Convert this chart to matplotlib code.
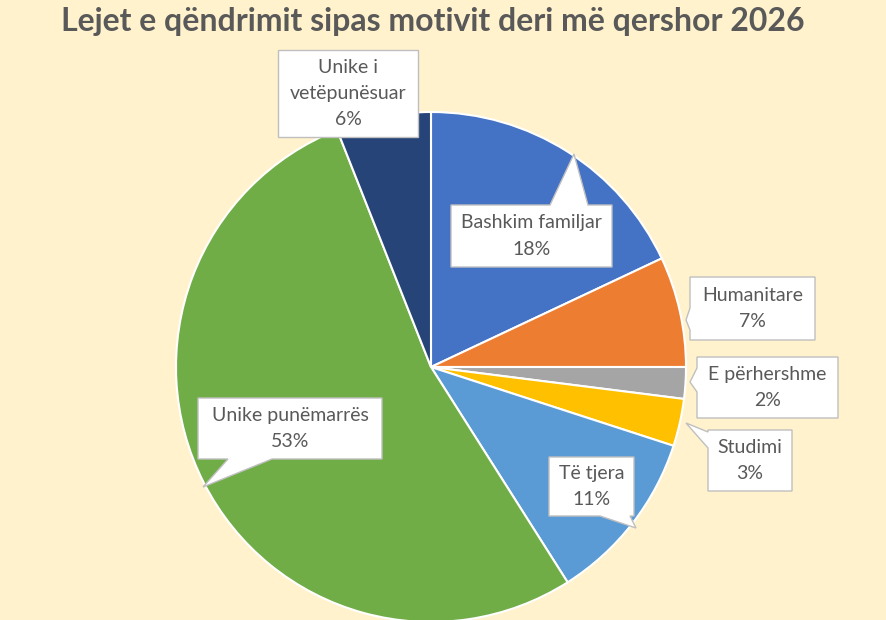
import matplotlib
matplotlib.use("Agg")
import matplotlib.pyplot as plt
from matplotlib.patches import Polygon

# ---- data ----
categories = ["Bashkim familjar", "Humanitare", "E përhershme", "Studimi",
              "Të tjera", "Unike punëmarrës", "Unike i vetëpunësuar"]
label_text = ["Bashkim familjar", "Humanitare", "E përhershme", "Studimi",
              "Të tjera", "Unike punëmarrës", "Unike i\nvetëpunësuar"]
values = [18, 7, 2, 3, 11, 53, 6]
colors = ["#4472C4", "#ED7D31", "#A5A5A5", "#FFC000", "#5B9BD5", "#70AD47", "#264478"]
title = "Lejet e qëndrimit sipas motivit deri më qershor 2026"

# ---- layout (pixels in 887x620 canvas) ----
W, H = 887, 620
CX, CY, R = 431, 367, 255
BG = "#FFF2CC"
TXT = "#595959"

# callout boxes: (left, top, right, bottom), tail: (side, a, b, tip_x, tip_y)
callouts = [
    ((451, 205, 612, 267), ("top", 550, 588, 574, 154)),
    ((690, 277, 815, 340), ("left", 308, 330, 686, 320)),
    ((697, 357, 838, 418), ("left", 368, 392, 690, 382)),
    ((708, 430, 792, 491), ("left", 432, 448, 686, 423)),
    ((549, 457, 634, 516), ("bottom", 600, 630, 636, 528)),
    ((198, 398, 382, 459), ("bottom", 228, 272, 203, 487)),
    ((278, 50, 418, 137), None),
]

def px(x, y):
    return ((x - CX) / R, (CY - y) / R)

fig = plt.figure(figsize=(W / 100, H / 100), dpi=100, facecolor=BG)
ax = fig.add_axes([0, 0, 1, 1])
ax.set_facecolor(BG)

ax.pie(values, colors=colors, startangle=90, counterclock=False, radius=1,
       center=(0, 0), frame=True,
       wedgeprops=dict(edgecolor="white", linewidth=1.5))
ax.set_xlim(-CX / R, (W - CX) / R)
ax.set_ylim(-(H - CY) / R, CY / R)
ax.set_aspect("equal")
ax.axis("off")

for i, (box, tail) in enumerate(callouts):
    l, t, r, b = box
    TL, TR, BR, BL = (l, t), (r, t), (r, b), (l, b)
    if tail is None:
        pts = [TL, TR, BR, BL]
    else:
        side, a, c, tx, ty = tail
        tip = (tx, ty)
        if side == "top":
            pts = [TL, (a, t), tip, (c, t), TR, BR, BL]
        elif side == "right":
            pts = [TL, TR, (r, a), tip, (r, c), BR, BL]
        elif side == "bottom":
            pts = [TL, TR, BR, (c, b), tip, (a, b), BL]
        else:
            pts = [TL, TR, BR, BL, (l, c), tip, (l, a)]
    poly = Polygon([px(*p) for p in pts], closed=True, facecolor="white",
                   edgecolor="#BFBFBF", linewidth=1.0, zorder=5)
    ax.add_patch(poly)
    cxp, cyp = px((l + r) / 2, (t + b) / 2)
    ax.text(cxp, cyp, f"{label_text[i]}\n{values[i]}%", ha="center", va="center",
            fontsize=14, color=TXT, family="Lato", linespacing=1.65, zorder=6)

fig.text(0.488, 1 - 21 / H, title, ha="center", va="center", fontsize=23,
         fontweight="bold", color=TXT, family="Lato")

fig.savefig("out.png", dpi=100, facecolor=BG)
